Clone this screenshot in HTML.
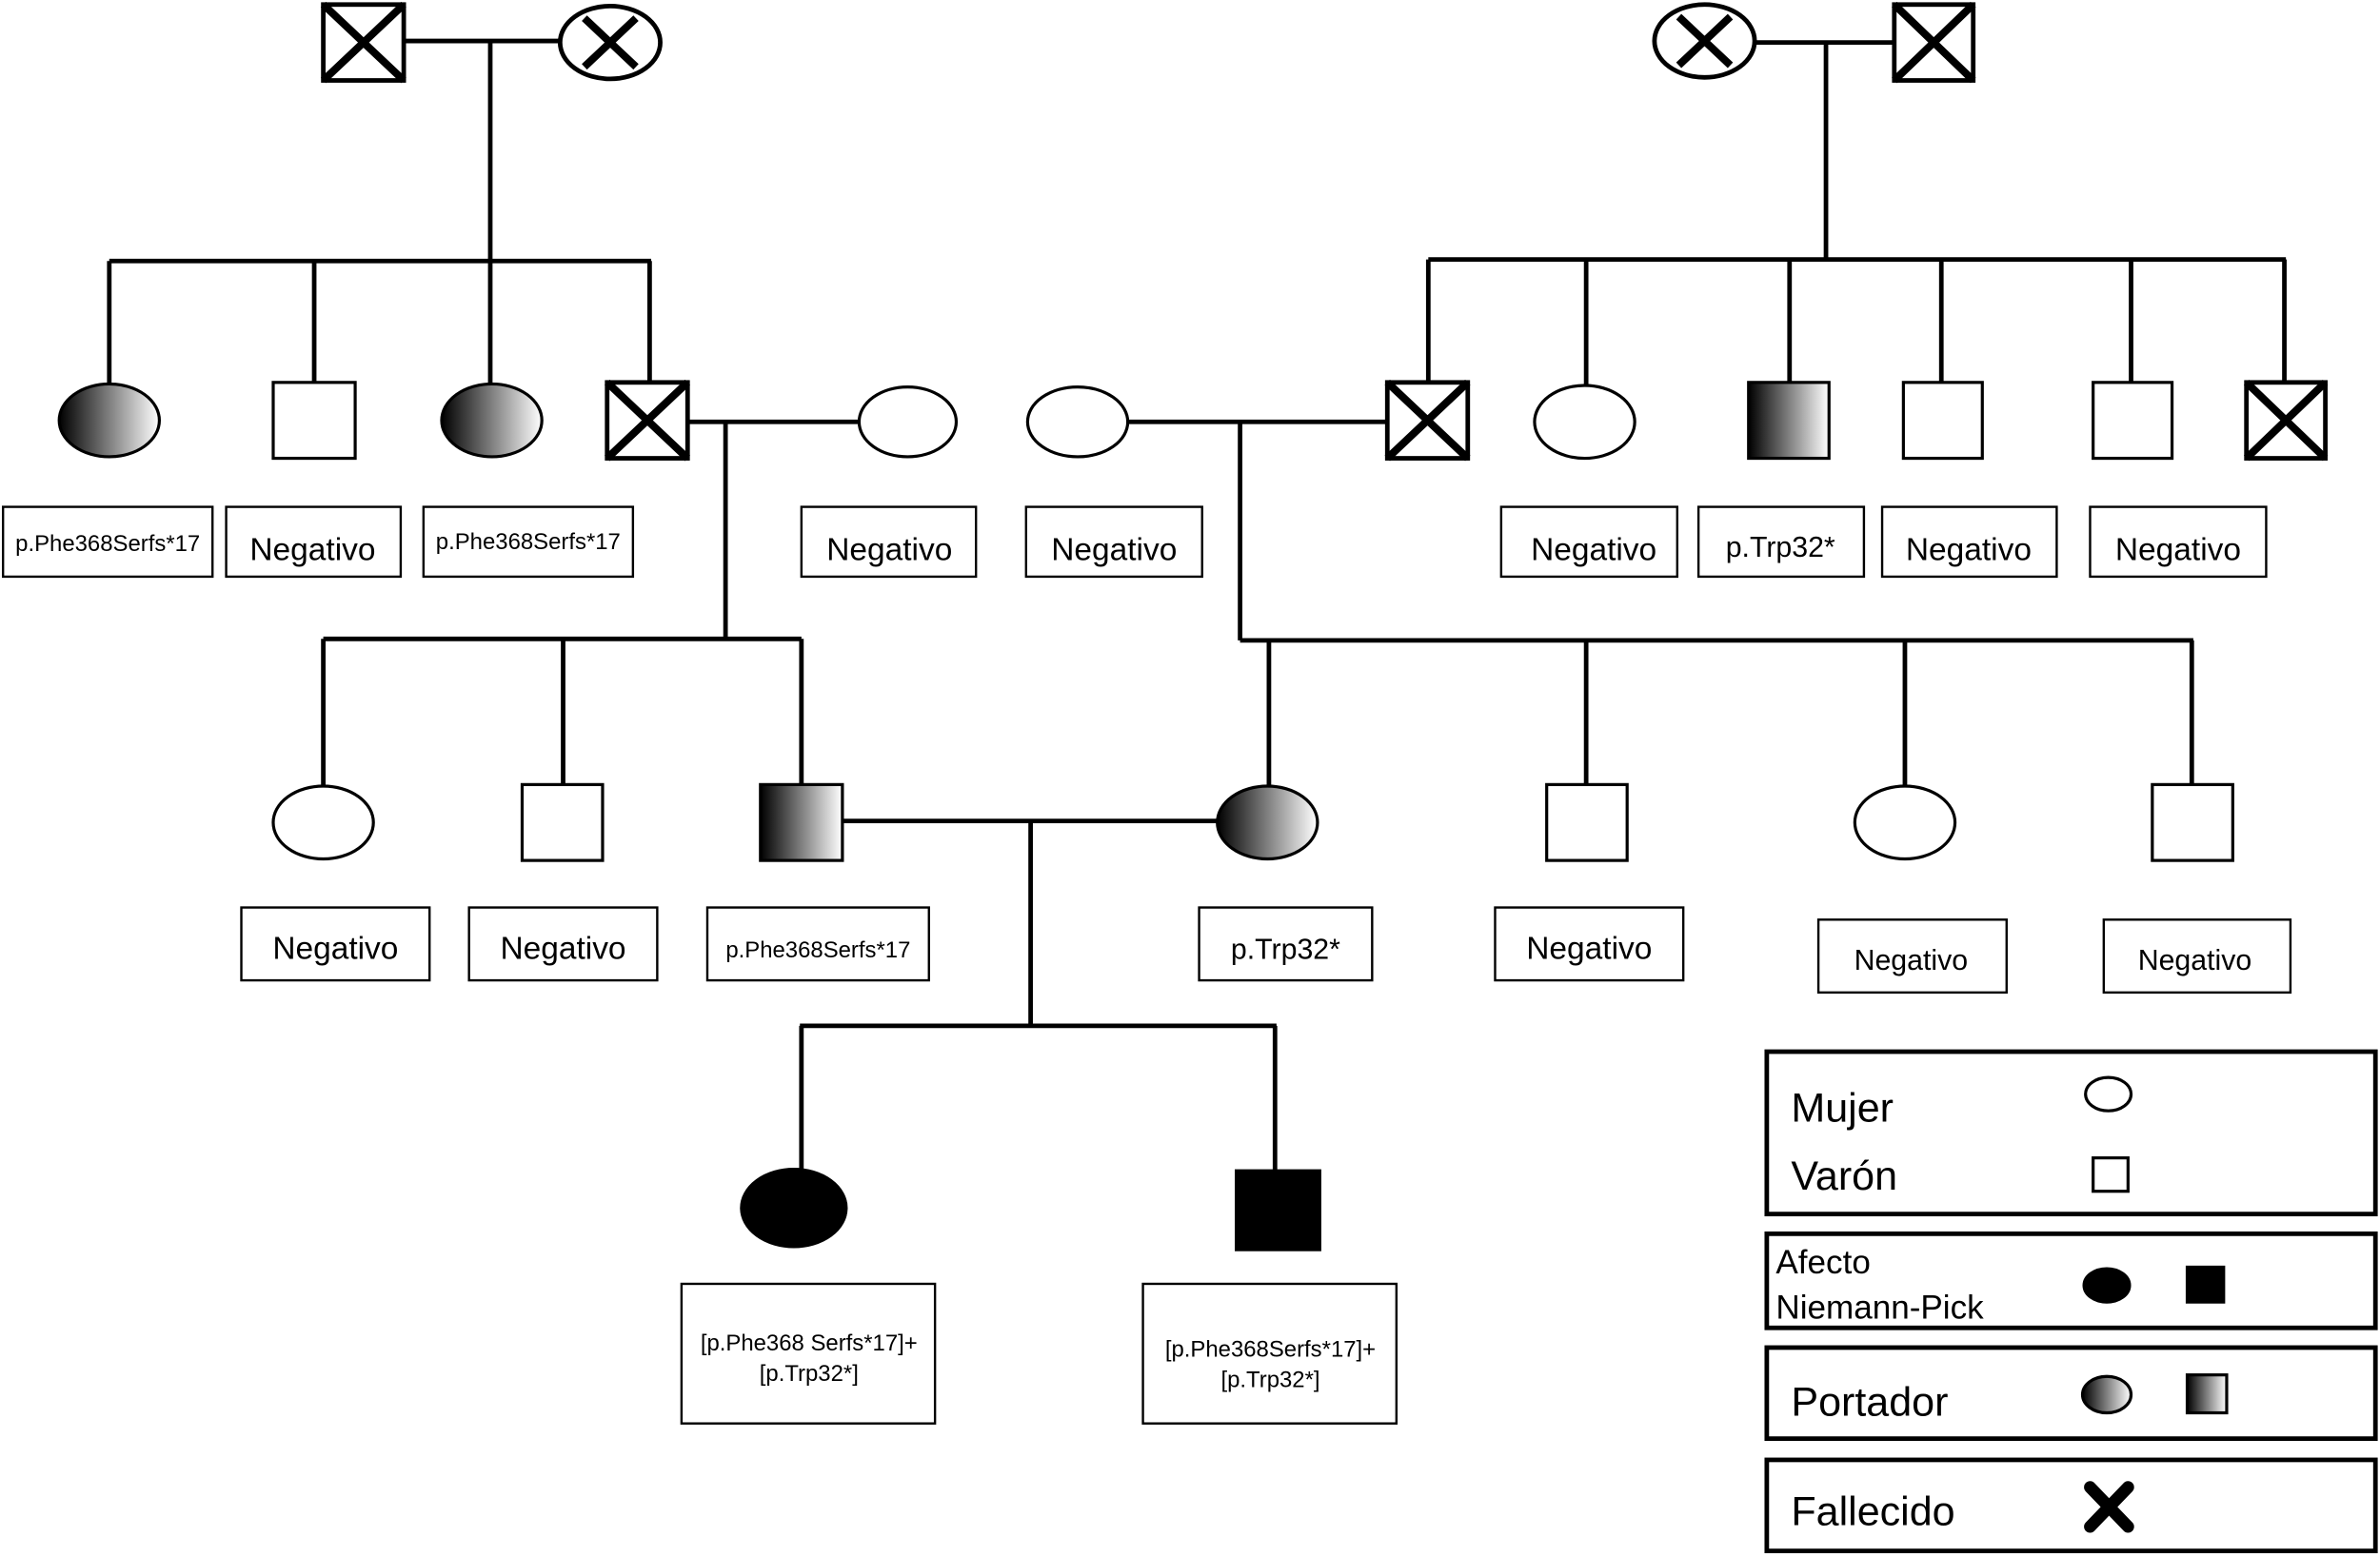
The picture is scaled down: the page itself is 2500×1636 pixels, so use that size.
<!DOCTYPE html>
<html><head><meta charset="utf-8"><style>
html,body{margin:0;padding:0;background:#fff;}
svg{display:block}
text{font-family:"Liberation Sans",sans-serif;fill:#000}
</style></head><body>
<svg width="2500" height="1636" viewBox="0 0 1568 1026" preserveAspectRatio="none" xmlns="http://www.w3.org/2000/svg">
<defs>
<linearGradient id="g" x1="0" y1="0" x2="1" y2="0"><stop offset="0" stop-color="#000"/><stop offset="1" stop-color="#fff"/></linearGradient>
</defs>
<g stroke="#000" stroke-width="3" fill="none">
<!-- left top -->
<line x1="266" y1="27" x2="370" y2="27"/><line x1="323" y1="27" x2="323" y2="172"/>
<line x1="72" y1="172" x2="429" y2="172"/>
<line x1="72" y1="172" x2="72" y2="253"/><line x1="207" y1="172" x2="207" y2="252"/>
<line x1="323" y1="172" x2="323" y2="253"/><line x1="428" y1="172" x2="428" y2="252"/>
<line x1="453" y1="278" x2="566" y2="278"/><line x1="478" y1="278" x2="478" y2="421"/>
<line x1="213" y1="421" x2="528" y2="421"/>
<line x1="213" y1="421" x2="213" y2="518"/><line x1="371" y1="421" x2="371" y2="517"/><line x1="528" y1="421" x2="528" y2="517"/>
<!-- right top -->
<line x1="1156" y1="28" x2="1248" y2="28"/><line x1="1203" y1="28" x2="1203" y2="171"/>
<line x1="941" y1="171" x2="1506" y2="171"/>
<line x1="941" y1="171" x2="941" y2="252"/><line x1="1045" y1="171" x2="1045" y2="254"/>
<line x1="1179" y1="171" x2="1179" y2="252"/><line x1="1279" y1="171" x2="1279" y2="252"/>
<line x1="1404" y1="171" x2="1404" y2="252"/><line x1="1505" y1="171" x2="1505" y2="252"/>
<line x1="743" y1="278" x2="914" y2="278"/><line x1="817" y1="278" x2="817" y2="422"/>
<line x1="817" y1="422" x2="1445" y2="422"/>
<line x1="836" y1="422" x2="836" y2="518"/><line x1="1045" y1="422" x2="1045" y2="517"/>
<line x1="1255" y1="422" x2="1255" y2="518"/><line x1="1444" y1="422" x2="1444" y2="517"/>
<!-- gen3 -->
<line x1="555" y1="541" x2="803" y2="541"/><line x1="679" y1="541" x2="679" y2="676"/>
<line x1="527" y1="676" x2="841" y2="676"/>
<line x1="528" y1="676" x2="528" y2="772"/><line x1="840" y1="676" x2="840" y2="772"/>
</g>
<g stroke="#000" stroke-width="3">
<!-- top-left couple -->
<rect x="213" y="3" width="53" height="50" fill="#fff"/>
<path d="M213 3L266 53M266 3L213 53" stroke-width="5"/>
<ellipse cx="402" cy="28" rx="33" ry="24" fill="#fff"/>
<path d="M385 12L419 44M419 12L385 44" stroke-width="5"/>
<!-- top-right couple -->
<ellipse cx="1123" cy="27" rx="33" ry="24" fill="#fff"/>
<path d="M1106 11L1140 43M1140 11L1106 43" stroke-width="5"/>
<rect x="1248" y="3" width="52" height="50" fill="#fff"/>
<path d="M1248 3L1300 53M1300 3L1248 53" stroke-width="5"/>
<!-- gen2 left -->
<ellipse cx="72" cy="277" rx="33" ry="24" fill="url(#g)" stroke-width="2"/>
<rect x="180" y="252" width="54" height="50" fill="#fff" stroke-width="2"/>
<ellipse cx="324" cy="277" rx="33" ry="24" fill="url(#g)" stroke-width="2"/>
<rect x="400" y="252" width="53" height="50" fill="#fff"/>
<path d="M400 252L453 302M453 252L400 302" stroke-width="5"/>
<ellipse cx="598" cy="278" rx="32" ry="23" fill="#fff" stroke-width="2"/>
<!-- gen2 right -->
<ellipse cx="710" cy="278" rx="33" ry="23" fill="#fff" stroke-width="2"/>
<rect x="914" y="252" width="53" height="50" fill="#fff"/>
<path d="M914 252L967 302M967 252L914 302" stroke-width="5"/>
<ellipse cx="1044" cy="278" rx="33" ry="24" fill="#fff" stroke-width="2"/>
<rect x="1152" y="252" width="53" height="50" fill="url(#g)" stroke-width="2"/>
<rect x="1254" y="252" width="52" height="50" fill="#fff" stroke-width="2"/>
<rect x="1379" y="252" width="52" height="50" fill="#fff" stroke-width="2"/>
<rect x="1480" y="252" width="52" height="50" fill="#fff"/>
<path d="M1480 252L1532 302M1532 252L1480 302" stroke-width="5"/>
<!-- gen3 -->
<ellipse cx="213" cy="542" rx="33" ry="24" fill="#fff" stroke-width="2"/>
<rect x="344" y="517" width="53" height="50" fill="#fff" stroke-width="2"/>
<rect x="501" y="517" width="54" height="50" fill="url(#g)" stroke-width="2"/>
<ellipse cx="835" cy="542" rx="33" ry="24" fill="url(#g)" stroke-width="2"/>
<rect x="1019" y="517" width="53" height="50" fill="#fff" stroke-width="2"/>
<ellipse cx="1255" cy="542" rx="33" ry="24" fill="#fff" stroke-width="2"/>
<rect x="1418" y="517" width="53" height="50" fill="#fff" stroke-width="2"/>
<!-- gen4 -->
<ellipse cx="523" cy="796" rx="34" ry="25" fill="#000"/>
<rect x="815" y="772" width="54" height="51" fill="#000"/>
</g>
<!-- label boxes -->
<g fill="#fff" stroke="#000" stroke-width="1.5">
<rect x="2" y="334" width="138" height="46"/><rect x="149" y="334" width="115" height="46"/>
<rect x="279" y="334" width="138" height="46"/><rect x="528" y="334" width="115" height="46"/>
<rect x="676" y="334" width="116" height="46"/><rect x="989" y="334" width="116" height="46"/>
<rect x="1119" y="334" width="109" height="46"/><rect x="1240" y="334" width="115" height="46"/>
<rect x="1377" y="334" width="116" height="46"/>
<rect x="159" y="598" width="124" height="48"/><rect x="309" y="598" width="124" height="48"/>
<rect x="466" y="598" width="146" height="48"/><rect x="790" y="598" width="114" height="48"/>
<rect x="985" y="598" width="124" height="48"/><rect x="1198" y="606" width="124" height="48"/>
<rect x="1386" y="606" width="123" height="48"/>
<rect x="449" y="846" width="167" height="92"/><rect x="753" y="846" width="167" height="92"/>
</g>
<g text-anchor="middle">
<text x="71" y="363" font-size="15">p.Phe368Serfs*17</text>
<text x="206" y="369" font-size="21">Negativo</text>
<text x="348" y="362" font-size="15">p.Phe368Serfs*17</text>
<text x="586" y="369" font-size="21">Negativo</text>
<text x="734" y="369" font-size="21">Negativo</text>
<text x="1050" y="369" font-size="21">Negativo</text>
<text x="1173" y="367" font-size="19">p.Trp32*</text>
<text x="1297" y="369" font-size="21">Negativo</text>
<text x="1435" y="369" font-size="21">Negativo</text>
<text x="221" y="632" font-size="21">Negativo</text>
<text x="371" y="632" font-size="21">Negativo</text>
<text x="539" y="631" font-size="15">p.Phe368Serfs*17</text>
<text x="847" y="632" font-size="19">p.Trp32*</text>
<text x="1047" y="632" font-size="21">Negativo</text>
<text x="1259" y="639" font-size="19">Negativo</text>
<text x="1446" y="639" font-size="19">Negativo</text>
<text x="533" y="890" font-size="15">[p.Phe368 Serfs*17]+</text>
<text x="533" y="910" font-size="15">[p.Trp32*]</text>
<text x="837" y="894" font-size="15">[p.Phe368Serfs*17]+</text>
<text x="837" y="914" font-size="15">[p.Trp32*]</text>
</g>
<!-- legend -->
<g fill="#fff" stroke="#000" stroke-width="3">
<rect x="1164" y="693" width="401" height="107"/>
<rect x="1164" y="813" width="401" height="62"/>
<rect x="1164" y="888" width="401" height="60"/>
<rect x="1164" y="962" width="401" height="60"/>
</g>
<g font-size="27">
<text x="1180" y="739">Mujer</text>
<text x="1180" y="784">Varón</text>
<text x="1170" y="839" font-size="22">Afecto</text>
<text x="1170" y="869" font-size="22">Niemann-Pick</text>
<text x="1180" y="933">Portador</text>
<text x="1180" y="1005">Fallecido</text>
</g>
<g stroke="#000" stroke-width="2">
<ellipse cx="1389" cy="721" rx="15" ry="11" fill="#fff"/>
<rect x="1379" y="763" width="23" height="22" fill="#fff"/>
<ellipse cx="1388" cy="847" rx="15" ry="11" fill="#000"/>
<rect x="1441" y="835" width="24" height="23" fill="#000"/>
<ellipse cx="1388" cy="919" rx="16" ry="12" fill="url(#g)"/>
<rect x="1441" y="906" width="26" height="25" fill="url(#g)"/>
<path d="M1377 980L1402 1006M1402 980L1377 1006" stroke-width="8" stroke-linecap="round"/>
</g>
</svg>
</body></html>
